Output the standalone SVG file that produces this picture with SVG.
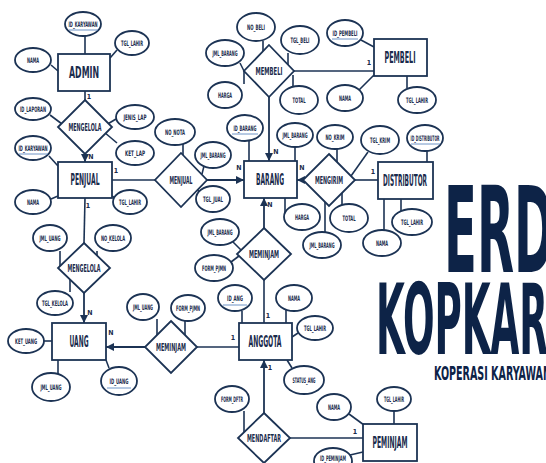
<svg xmlns="http://www.w3.org/2000/svg" width="546" height="463" viewBox="0 0 546 463">
<defs>
<style>
.e{fill:#fff;stroke:#1c3354;stroke-width:1.8}
.r{fill:#fff;stroke:#1c3354;stroke-width:1.8}
.c{stroke:#1c3354;stroke-width:1.6;fill:none}
.a{stroke:#1c3354;stroke-width:1.8;fill:none;marker-end:url(#ah)}
.u{stroke:#4a78b8;stroke-width:0.8}
text{font-family:"DejaVu Sans Condensed","DejaVu Sans","Liberation Sans",sans-serif;font-weight:bold;fill:#1a2b4c;text-anchor:middle}
.t{font-size:7.5px}
.n{font-size:15px}
.d{font-size:11px}
.m{font-size:7px}
.big{fill:#0d2347;text-anchor:start}
</style>
<marker id="ah" markerWidth="8" markerHeight="8" refX="8" refY="4" orient="auto" markerUnits="userSpaceOnUse"><path d="M0,0 L8,4 L0,8 z" fill="#1c3354"/></marker>
</defs>
<rect width="546" height="463" fill="#fff"/>
<g id="connectors">
<line class="c" x1="85" y1="91" x2="85" y2="100"/>
<line class="c" x1="112" y1="180" x2="155" y2="180"/>
<line class="c" x1="85" y1="198" x2="84" y2="243"/>
<line class="c" x1="294" y1="71" x2="374" y2="71"/>
<line class="c" x1="355" y1="180" x2="378" y2="180"/>
<line class="c" x1="197" y1="347" x2="239" y2="347"/>
<line class="c" x1="264" y1="280" x2="264" y2="323"/>
<line class="c" x1="290" y1="438" x2="363" y2="438"/>
<line class="a" x1="85" y1="154" x2="85" y2="162"/>
<line class="a" x1="207" y1="180" x2="244" y2="180"/>
<line class="a" x1="269" y1="97" x2="269" y2="161"/>
<line class="a" x1="305" y1="180" x2="297" y2="180"/>
<line class="a" x1="264" y1="228" x2="264" y2="198"/>
<line class="a" x1="84" y1="293" x2="84" y2="323"/>
<line class="a" x1="145" y1="347" x2="106" y2="347"/>
<line class="a" x1="264" y1="413" x2="264" y2="360"/>
<line class="c" x1="85" y1="36" x2="85" y2="54"/>
<line class="c" x1="117" y1="50" x2="110" y2="58"/>
<line class="c" x1="51" y1="65" x2="58" y2="71"/>
<line class="c" x1="50" y1="115" x2="62" y2="124"/>
<line class="c" x1="116" y1="119" x2="106" y2="125"/>
<line class="c" x1="104" y1="132" x2="117" y2="143"/>
<line class="c" x1="49" y1="156" x2="58" y2="166"/>
<line class="c" x1="51" y1="199" x2="58" y2="196"/>
<line class="c" x1="112" y1="196" x2="116" y2="199"/>
<line class="c" x1="60" y1="251" x2="60" y2="266"/>
<line class="c" x1="97" y1="251" x2="97" y2="256"/>
<line class="c" x1="70" y1="280" x2="70" y2="292"/>
<line class="c" x1="44" y1="341" x2="52" y2="341"/>
<line class="c" x1="58" y1="360" x2="58" y2="374"/>
<line class="c" x1="106" y1="360" x2="109" y2="368"/>
<line class="c" x1="157" y1="319" x2="157" y2="335"/>
<line class="c" x1="185" y1="320" x2="185" y2="335"/>
<line class="c" x1="183" y1="144" x2="183" y2="155"/>
<line class="c" x1="204" y1="166" x2="202" y2="174"/>
<line class="c" x1="198" y1="190" x2="200" y2="196"/>
<line class="c" x1="263" y1="41" x2="263" y2="51"/>
<line class="c" x1="288" y1="53" x2="288" y2="65"/>
<line class="c" x1="240" y1="63" x2="244" y2="71"/>
<line class="c" x1="244" y1="71" x2="244" y2="84"/>
<line class="c" x1="293" y1="75" x2="293" y2="87"/>
<line class="c" x1="361" y1="40" x2="374" y2="47"/>
<line class="c" x1="359" y1="90" x2="374" y2="75"/>
<line class="c" x1="407" y1="76" x2="407" y2="88"/>
<line class="c" x1="249" y1="141" x2="249" y2="161"/>
<line class="c" x1="295" y1="147" x2="295" y2="161"/>
<line class="c" x1="285" y1="198" x2="285" y2="213"/>
<line class="c" x1="337" y1="149" x2="337" y2="162"/>
<line class="c" x1="368" y1="152" x2="351" y2="176"/>
<line class="c" x1="342" y1="193" x2="342" y2="205"/>
<line class="c" x1="325" y1="202" x2="325" y2="232"/>
<line class="c" x1="427" y1="151" x2="427" y2="162"/>
<line class="c" x1="401" y1="199" x2="401" y2="211"/>
<line class="c" x1="384" y1="199" x2="384" y2="230"/>
<line class="c" x1="233" y1="242" x2="241" y2="250"/>
<line class="c" x1="231" y1="262" x2="239" y2="256"/>
<line class="c" x1="242" y1="311" x2="242" y2="323"/>
<line class="c" x1="286" y1="309" x2="286" y2="323"/>
<line class="c" x1="298" y1="333" x2="292" y2="337"/>
<line class="c" x1="287" y1="360" x2="292" y2="368"/>
<line class="c" x1="244" y1="411" x2="244" y2="432"/>
<line class="c" x1="349" y1="414" x2="364" y2="425"/>
<line class="c" x1="350" y1="455" x2="363" y2="452"/>
<line class="c" x1="394" y1="411" x2="394" y2="424"/>
<text class="m" x="89" y="99">1</text>
<text class="m" x="91" y="159">N</text>
<text class="m" x="116" y="173">1</text>
<text class="m" x="88" y="208">1</text>
<text class="m" x="90" y="315">N</text>
<text class="m" x="111" y="335">N</text>
<text class="m" x="233" y="340">1</text>
<text class="m" x="268" y="318">1</text>
<text class="m" x="270" y="370">1</text>
<text class="m" x="355" y="434">1</text>
<text class="m" x="369" y="65">1</text>
<text class="m" x="373" y="174">1</text>
<text class="m" x="276" y="154">N</text>
<text class="m" x="239" y="170">N</text>
<text class="m" x="302" y="170">N</text>
<text class="m" x="270" y="207">N</text>
</g>
<g id="entities">
<g id="admin"><rect class="r" x="58" y="54" width="52" height="37"/><text class="n" x="84" y="78" textLength="30" lengthAdjust="spacingAndGlyphs">ADMIN</text></g>
<g id="penjual"><rect class="r" x="58" y="162" width="54" height="36"/><text class="n" x="85" y="185" textLength="29" lengthAdjust="spacingAndGlyphs">PENJUAL</text></g>
<g id="uang"><rect class="r" x="52" y="323" width="54" height="37"/><text class="n" x="79" y="347" textLength="19" lengthAdjust="spacingAndGlyphs">UANG</text></g>
<g id="barang"><rect class="r" x="244" y="161" width="53" height="37"/><text class="n" x="270" y="185" textLength="28" lengthAdjust="spacingAndGlyphs">BARANG</text></g>
<g id="distributor"><rect class="r" x="378" y="162" width="55" height="37"/><text class="n" x="405" y="186" textLength="44" lengthAdjust="spacingAndGlyphs">DISTRIBUTOR</text></g>
<g id="pembeli"><rect class="r" x="374" y="39" width="53" height="37"/><text class="n" x="400" y="63" textLength="31" lengthAdjust="spacingAndGlyphs">PEMBELI</text></g>
<g id="anggota"><rect class="r" x="239" y="323" width="53" height="37"/><text class="n" x="265" y="347" textLength="33" lengthAdjust="spacingAndGlyphs">ANGGOTA</text></g>
<g id="peminjam"><rect class="r" x="363" y="424" width="54" height="37"/><text class="n" x="390" y="448" textLength="35" lengthAdjust="spacingAndGlyphs">PEMINJAM</text></g>
</g>
<g id="relations">
<g id="mengelola1"><polygon class="r" points="85,100 112,127 85,154 58,127"/><text class="d" x="85" y="131" textLength="33" lengthAdjust="spacingAndGlyphs">MENGELOLA</text></g>
<g id="menjual"><polygon class="r" points="181,153 207,180 181,207 155,180"/><text class="d" x="181" y="184" textLength="23" lengthAdjust="spacingAndGlyphs">MENJUAL</text></g>
<g id="membeli"><polygon class="r" points="269,45 294,71 269,97 244,71"/><text class="d" x="269" y="75" textLength="27" lengthAdjust="spacingAndGlyphs">MEMBELI</text></g>
<g id="mengirim"><polygon class="r" points="329,154 355,180 329,206 303,180"/><text class="d" x="329" y="184" textLength="28" lengthAdjust="spacingAndGlyphs">MENGIRIM</text></g>
<g id="meminjam1"><polygon class="r" points="264,228 291,254 264,280 237,254"/><text class="d" x="264" y="258" textLength="30" lengthAdjust="spacingAndGlyphs">MEMINJAM</text></g>
<g id="mengelola2"><polygon class="r" points="84,243 110,268 84,293 58,268"/><text class="d" x="84" y="272" textLength="33" lengthAdjust="spacingAndGlyphs">MENGELOLA</text></g>
<g id="meminjam2"><polygon class="r" points="171,321 197,347 171,373 145,347"/><text class="d" x="171" y="351" textLength="30" lengthAdjust="spacingAndGlyphs">MEMINJAM</text></g>
<g id="mendaftar"><polygon class="r" points="264,413 290,438 264,463 238,438"/><text class="d" x="264" y="442" textLength="34" lengthAdjust="spacingAndGlyphs">MENDAFTAR</text></g>
</g>
<g id="attributes">
<g id="a1"><ellipse class="e" cx="83" cy="24" rx="18" ry="12"/><text class="t" x="83" y="27" textLength="29" lengthAdjust="spacingAndGlyphs">ID_KARYAWAN</text><line class="u" x1="69" y1="30" x2="98" y2="30"/></g>
<g id="a2"><ellipse class="e" cx="132" cy="43" rx="17" ry="12"/><text class="t" x="132" y="46" textLength="22" lengthAdjust="spacingAndGlyphs">TGL_LAHIR</text></g>
<g id="a3"><ellipse class="e" cx="33" cy="60" rx="18" ry="12"/><text class="t" x="33" y="63" textLength="12" lengthAdjust="spacingAndGlyphs">NAMA</text></g>
<g id="a4"><ellipse class="e" cx="33" cy="109" rx="18" ry="11"/><text class="t" x="33" y="112" textLength="26" lengthAdjust="spacingAndGlyphs">ID_LAPORAN</text></g>
<g id="a5"><ellipse class="e" cx="135" cy="117" rx="19" ry="12"/><text class="t" x="135" y="120" textLength="23" lengthAdjust="spacingAndGlyphs">JENIS_LAP</text></g>
<g id="a6"><ellipse class="e" cx="135" cy="153" rx="19" ry="12"/><text class="t" x="135" y="156" textLength="20" lengthAdjust="spacingAndGlyphs">KET_LAP</text></g>
<g id="a7"><ellipse class="e" cx="33" cy="148" rx="18" ry="12"/><text class="t" x="33" y="151" textLength="29" lengthAdjust="spacingAndGlyphs">ID_KARYAWAN</text><line class="u" x1="19" y1="154" x2="48" y2="154"/></g>
<g id="a8"><ellipse class="e" cx="33" cy="202" rx="18" ry="12"/><text class="t" x="33" y="205" textLength="12" lengthAdjust="spacingAndGlyphs">NAMA</text></g>
<g id="a9"><ellipse class="e" cx="130" cy="202" rx="17" ry="12"/><text class="t" x="130" y="205" textLength="22" lengthAdjust="spacingAndGlyphs">TGL_LAHIR</text></g>
<g id="a10"><ellipse class="e" cx="50" cy="238" rx="17" ry="13"/><text class="t" x="50" y="241" textLength="21" lengthAdjust="spacingAndGlyphs">JML_UANG</text></g>
<g id="a11"><ellipse class="e" cx="113" cy="238" rx="18" ry="13"/><text class="t" x="113" y="241" textLength="24" lengthAdjust="spacingAndGlyphs">NO_KELOLA</text></g>
<g id="a12"><ellipse class="e" cx="55" cy="303" rx="18" ry="12"/><text class="t" x="55" y="306" textLength="26" lengthAdjust="spacingAndGlyphs">TGL_KELOLA</text></g>
<g id="a13"><ellipse class="e" cx="26" cy="341" rx="18" ry="12"/><text class="t" x="26" y="344" textLength="22" lengthAdjust="spacingAndGlyphs">KET_UANG</text></g>
<g id="a14"><ellipse class="e" cx="51" cy="387" rx="19" ry="14"/><text class="t" x="51" y="390" textLength="21" lengthAdjust="spacingAndGlyphs">JML_UANG</text></g>
<g id="a15"><ellipse class="e" cx="119" cy="381" rx="18" ry="14"/><text class="t" x="119" y="384" textLength="19" lengthAdjust="spacingAndGlyphs">ID_UANG</text><line class="u" x1="107" y1="388" x2="131" y2="388"/></g>
<g id="a16"><ellipse class="e" cx="143" cy="307" rx="16" ry="13"/><text class="t" x="143" y="310" textLength="20" lengthAdjust="spacingAndGlyphs">JML_UANG</text></g>
<g id="a17"><ellipse class="e" cx="188" cy="308" rx="17" ry="13"/><text class="t" x="188" y="311" textLength="24" lengthAdjust="spacingAndGlyphs">FORM_PJMN</text></g>
<g id="a18"><ellipse class="e" cx="175" cy="132" rx="20" ry="13"/><text class="t" x="175" y="135" textLength="20" lengthAdjust="spacingAndGlyphs">NO_NOTA</text></g>
<g id="a19"><ellipse class="e" cx="213" cy="155" rx="18" ry="13"/><text class="t" x="213" y="158" textLength="25" lengthAdjust="spacingAndGlyphs">JML_BARANG</text></g>
<g id="a20"><ellipse class="e" cx="213" cy="199" rx="17" ry="13"/><text class="t" x="213" y="202" textLength="20" lengthAdjust="spacingAndGlyphs">TGL_JUAL</text></g>
<g id="a21"><ellipse class="e" cx="256" cy="27" rx="19" ry="14"/><text class="t" x="256" y="30" textLength="18" lengthAdjust="spacingAndGlyphs">NO_BELI</text></g>
<g id="a22"><ellipse class="e" cx="300" cy="40" rx="19" ry="14"/><text class="t" x="300" y="43" textLength="19" lengthAdjust="spacingAndGlyphs">TGL_BELI</text></g>
<g id="a23"><ellipse class="e" cx="225" cy="53" rx="19" ry="13"/><text class="t" x="225" y="56" textLength="25" lengthAdjust="spacingAndGlyphs">JML_BARANG</text></g>
<g id="a24"><ellipse class="e" cx="225" cy="95" rx="17" ry="13"/><text class="t" x="225" y="98" textLength="14" lengthAdjust="spacingAndGlyphs">HARGA</text></g>
<g id="a25"><ellipse class="e" cx="299" cy="100" rx="19" ry="14"/><text class="t" x="299" y="103" textLength="13" lengthAdjust="spacingAndGlyphs">TOTAL</text></g>
<g id="a26"><ellipse class="e" cx="345" cy="33" rx="18" ry="13"/><text class="t" x="345" y="36" textLength="25" lengthAdjust="spacingAndGlyphs">ID_PEMBELI</text><line class="u" x1="332" y1="39" x2="358" y2="39"/></g>
<g id="a27"><ellipse class="e" cx="345" cy="98" rx="18" ry="13"/><text class="t" x="345" y="101" textLength="12" lengthAdjust="spacingAndGlyphs">NAMA</text></g>
<g id="a28"><ellipse class="e" cx="417" cy="100" rx="19" ry="13"/><text class="t" x="417" y="103" textLength="22" lengthAdjust="spacingAndGlyphs">TGL_LAHIR</text></g>
<g id="a29"><ellipse class="e" cx="245" cy="128" rx="18" ry="13"/><text class="t" x="245" y="131" textLength="23" lengthAdjust="spacingAndGlyphs">ID_BARANG</text><line class="u" x1="232" y1="134" x2="258" y2="134"/></g>
<g id="a30"><ellipse class="e" cx="295" cy="135" rx="18" ry="12"/><text class="t" x="295" y="138" textLength="25" lengthAdjust="spacingAndGlyphs">JML_BARANG</text></g>
<g id="a31"><ellipse class="e" cx="302" cy="217" rx="18" ry="13"/><text class="t" x="302" y="220" textLength="14" lengthAdjust="spacingAndGlyphs">HARGA</text></g>
<g id="a32"><ellipse class="e" cx="335" cy="137" rx="18" ry="12"/><text class="t" x="335" y="140" textLength="19" lengthAdjust="spacingAndGlyphs">NO_KRIM</text></g>
<g id="a33"><ellipse class="e" cx="380" cy="140" rx="19" ry="14"/><text class="t" x="380" y="143" textLength="20" lengthAdjust="spacingAndGlyphs">TGL_KRIM</text></g>
<g id="a34"><ellipse class="e" cx="349" cy="218" rx="19" ry="14"/><text class="t" x="349" y="221" textLength="13" lengthAdjust="spacingAndGlyphs">TOTAL</text></g>
<g id="a35"><ellipse class="e" cx="322" cy="245" rx="19" ry="13"/><text class="t" x="322" y="248" textLength="25" lengthAdjust="spacingAndGlyphs">JML_BARANG</text></g>
<g id="a36"><ellipse class="e" cx="425" cy="138" rx="18" ry="13"/><text class="t" x="425" y="141" textLength="29" lengthAdjust="spacingAndGlyphs">ID_DISTRIBUTOR</text><line class="u" x1="411" y1="144" x2="440" y2="144"/></g>
<g id="a37"><ellipse class="e" cx="412" cy="222" rx="20" ry="13"/><text class="t" x="412" y="225" textLength="22" lengthAdjust="spacingAndGlyphs">TGL_LAHIR</text></g>
<g id="a38"><ellipse class="e" cx="382" cy="243" rx="19" ry="13"/><text class="t" x="382" y="246" textLength="12" lengthAdjust="spacingAndGlyphs">NAMA</text></g>
<g id="a39"><ellipse class="e" cx="220" cy="232" rx="19" ry="13"/><text class="t" x="220" y="235" textLength="25" lengthAdjust="spacingAndGlyphs">JML_BARANG</text></g>
<g id="a40"><ellipse class="e" cx="214" cy="268" rx="19" ry="13"/><text class="t" x="214" y="271" textLength="24" lengthAdjust="spacingAndGlyphs">FORM_PJMN</text></g>
<g id="a41"><ellipse class="e" cx="235" cy="298" rx="17" ry="13"/><text class="t" x="235" y="301" textLength="16" lengthAdjust="spacingAndGlyphs">ID_ANG</text><line class="u" x1="223" y1="305" x2="247" y2="305"/></g>
<g id="a42"><ellipse class="e" cx="294" cy="298" rx="18" ry="13"/><text class="t" x="294" y="301" textLength="12" lengthAdjust="spacingAndGlyphs">NAMA</text></g>
<g id="a43"><ellipse class="e" cx="315" cy="328" rx="18" ry="12"/><text class="t" x="315" y="331" textLength="22" lengthAdjust="spacingAndGlyphs">TGL_LAHIR</text></g>
<g id="a44"><ellipse class="e" cx="304" cy="380" rx="20" ry="14"/><text class="t" x="304" y="383" textLength="23" lengthAdjust="spacingAndGlyphs">STATUS_ANG</text></g>
<g id="a45"><ellipse class="e" cx="232" cy="399" rx="17" ry="13"/><text class="t" x="232" y="402" textLength="22" lengthAdjust="spacingAndGlyphs">FORM_DFTR</text></g>
<g id="a46"><ellipse class="e" cx="334" cy="407" rx="17" ry="13"/><text class="t" x="334" y="410" textLength="12" lengthAdjust="spacingAndGlyphs">NAMA</text></g>
<g id="a47"><ellipse class="e" cx="333" cy="461" rx="19" ry="13"/><text class="t" x="333" y="461" textLength="26" lengthAdjust="spacingAndGlyphs">ID_PEMINJAM</text></g>
<g id="a48"><ellipse class="e" cx="394" cy="399" rx="17" ry="12"/><text class="t" x="394" y="402" textLength="20" lengthAdjust="spacingAndGlyphs">TGL_LAHIR</text></g>
</g>
<g id="title">
<text class="big" x="444" y="272" font-size="120" textLength="110" lengthAdjust="spacingAndGlyphs">ERD</text>
<text class="big" x="376" y="354" font-size="98" textLength="172" lengthAdjust="spacingAndGlyphs">KOPKAR</text>
<text class="big" x="434" y="380" font-size="20" textLength="117" lengthAdjust="spacingAndGlyphs">KOPERASI KARYAWAN</text>
</g>
</svg>
